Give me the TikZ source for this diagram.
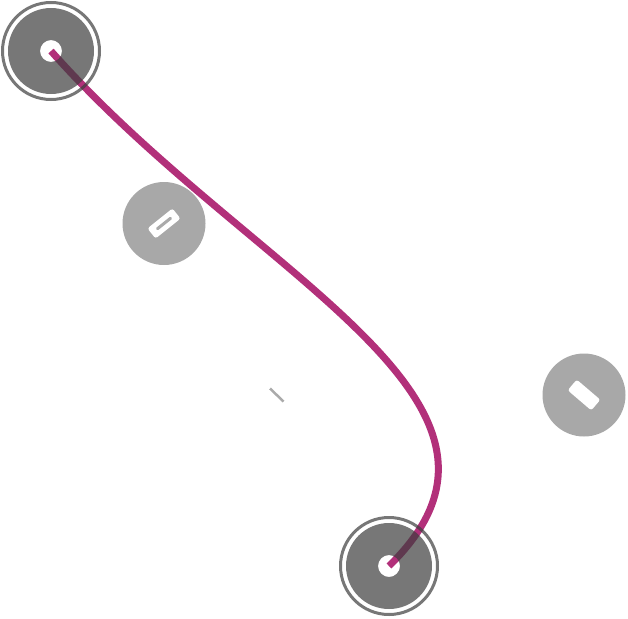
\documentclass[tikz,border=0pt]{standalone}
\definecolor{curvecol}{HTML}{B2307A}
\definecolor{endgray}{HTML}{3D3D3D}
\definecolor{handlegray}{HTML}{838383}
\definecolor{dashgray}{HTML}{AAAAAA}
\tikzset{
  curvestyle/.style={draw=curvecol, line width=7pt},
  enddisc/.style={fill=endgray, fill opacity=0.7, even odd rule},
  endring/.style={draw=endgray, draw opacity=0.7, line width=3pt},
  handledisc/.style={fill=handlegray, fill opacity=0.7},
  handlebar/.style={rectangle, rounded corners=2.5pt, fill=white, inner sep=0pt},
  slot/.style={rectangle, rounded corners=1pt, fill=dashgray, inner sep=0pt, minimum width=19pt, minimum height=3pt},
}
\begin{document}
\begin{tikzpicture}[x=1pt,y=-1pt]
\useasboundingbox (0,0) rectangle (628,618);
\coordinate (p0) at (51,51);
\coordinate (c1) at (251,277);
\coordinate (c2) at (559,400);
\coordinate (p3) at (389,566);
\coordinate (h1) at (164,223.5);
\coordinate (h2) at (584,395);
\coordinate (d1) at (270,388.5);
\coordinate (d2) at (283.5,401.5);
% curve
\draw[curvestyle] (p0) .. controls (c1) and (c2) .. (p3);
% end points
\fill[enddisc] (p0) circle[radius=43] (p0) circle[radius=11];
\draw[endring] (p0) circle[radius=48.5];
\fill[enddisc] (p3) circle[radius=43] (p3) circle[radius=11];
\draw[endring] (p3) circle[radius=48.5];
% handles
\fill[handledisc] (h1) circle[radius=41.5];
\node[handlebar, minimum width=32pt, minimum height=13pt, rotate=38.7] (bar1) at (h1) {};
\node[slot, rotate=38.7] (slot1) at (h1) {};
\fill[handledisc] (h2) circle[radius=41.5];
\node[handlebar, minimum width=31pt, minimum height=14pt, rotate=-40.5] (bar2) at (h2) {};
% small dash
\draw[dashgray, line width=2.5pt] (d1) -- (d2);
\end{tikzpicture}
\end{document}
